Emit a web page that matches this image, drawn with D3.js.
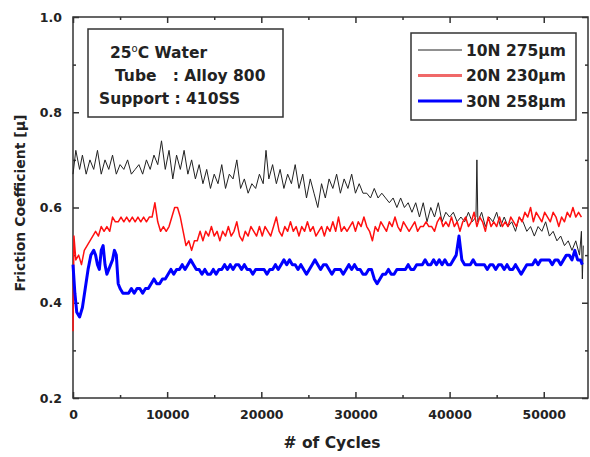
<!DOCTYPE html>
<html><head><meta charset="utf-8">
<script src="https://cdn.jsdelivr.net/npm/d3@7"></script>
<style>body{margin:0;background:#fff}svg{display:block}text{font-family:"DejaVu Sans",Verdana,sans-serif;font-weight:bold}</style>
</head><body><svg id="c" width="590" height="457"></svg>
<script>
// ---- data ----
const seriesNames = ["10N 275\u03bcm", "20N 230\u03bcm", "30N 258\u03bcm"];
const seriesColors = ["#222", "#ff1010", "#0000ff"];
const seriesWidths = [1, 1.5, 3];
const xTicks = [0, 10000, 20000, 30000, 40000, 50000];
const yTicks = [0.2, 0.4, 0.6, 0.8, 1.0];
const info = ["25\u00b0C Water", "Tube   : Alloy 800", "Support : 410SS"];

const s10N = [[0,0.67],[300,0.72],[700,0.68],[1000,0.71],[1400,0.67],[1800,0.70],[2200,0.68],[2600,0.72],[3000,0.67],[3400,0.70],[3800,0.68],[4200,0.71],[4600,0.67],[5000,0.69],[5400,0.68],[5800,0.70],[6200,0.67],[6600,0.68],[7000,0.69],[7400,0.67],[7800,0.70],[8200,0.68],[8600,0.71],[9000,0.69],[9400,0.74],[9800,0.68],[10200,0.72],[10600,0.66],[11000,0.71],[11400,0.68],[11800,0.72],[12200,0.67],[12600,0.70],[13000,0.66],[13400,0.69],[13800,0.65],[14200,0.68],[14600,0.64],[15000,0.67],[15400,0.65],[15800,0.69],[16200,0.64],[16600,0.67],[17000,0.66],[17400,0.70],[17800,0.64],[18200,0.66],[18600,0.63],[19000,0.65],[19400,0.64],[19800,0.67],[20200,0.65],[20500,0.72],[20800,0.66],[21200,0.69],[21600,0.65],[22000,0.68],[22400,0.64],[22800,0.67],[23200,0.65],[23600,0.69],[24000,0.64],[24400,0.67],[24800,0.62],[25200,0.66],[25600,0.63],[26000,0.60],[26400,0.65],[26800,0.62],[27200,0.66],[27600,0.64],[28000,0.67],[28400,0.63],[28800,0.66],[29200,0.64],[29600,0.67],[30000,0.63],[30400,0.65],[30800,0.63],[31200,0.63],[31600,0.62],[32000,0.64],[32400,0.62],[32800,0.63],[33200,0.62],[33600,0.61],[34000,0.62],[34400,0.60],[34800,0.62],[35200,0.60],[35600,0.61],[36000,0.59],[36400,0.61],[36800,0.58],[37200,0.61],[37600,0.57],[38000,0.60],[38400,0.58],[38800,0.61],[39200,0.57],[39600,0.59],[40000,0.58],[40400,0.59],[40800,0.57],[41200,0.58],[41600,0.57],[42000,0.59],[42400,0.57],[42800,0.58],[42900,0.70],[43000,0.57],[43400,0.59],[43800,0.56],[44200,0.58],[44600,0.57],[45000,0.59],[45400,0.56],[45800,0.58],[46200,0.56],[46600,0.57],[47000,0.55],[47400,0.58],[47800,0.57],[48200,0.55],[48600,0.56],[49000,0.54],[49400,0.56],[49800,0.55],[50200,0.57],[50600,0.54],[51000,0.55],[51400,0.53],[51800,0.54],[52200,0.52],[52600,0.53],[53000,0.51],[53400,0.53],[53800,0.50],[54000,0.55],[54100,0.45],[54200,0.52]];

const s20N = [[0,0.34],[100,0.54],[300,0.49],[600,0.50],[900,0.48],[1200,0.51],[1500,0.52],[1800,0.53],[2100,0.54],[2400,0.55],[2700,0.54],[3000,0.56],[3300,0.55],[3600,0.56],[3900,0.55],[4200,0.58],[4500,0.57],[4800,0.57],[5100,0.58],[5400,0.57],[5700,0.58],[6000,0.57],[6300,0.58],[6600,0.57],[6900,0.58],[7200,0.57],[7500,0.58],[7800,0.57],[8100,0.58],[8400,0.58],[8700,0.61],[9000,0.57],[9300,0.55],[9600,0.56],[9900,0.55],[10200,0.56],[10500,0.58],[10800,0.60],[11100,0.60],[11400,0.58],[11700,0.55],[12000,0.52],[12300,0.53],[12600,0.51],[12900,0.53],[13200,0.53],[13500,0.55],[13800,0.53],[14100,0.55],[14400,0.54],[14700,0.56],[15000,0.54],[15300,0.55],[15600,0.53],[15900,0.55],[16200,0.54],[16500,0.56],[16800,0.54],[17100,0.55],[17400,0.57],[17700,0.54],[18000,0.53],[18300,0.55],[18600,0.54],[18900,0.56],[19200,0.55],[19500,0.54],[19800,0.56],[20100,0.54],[20400,0.56],[20700,0.55],[21000,0.54],[21300,0.56],[21600,0.58],[21900,0.55],[22200,0.54],[22500,0.56],[22800,0.55],[23100,0.57],[23400,0.55],[23700,0.56],[24000,0.54],[24300,0.56],[24600,0.55],[24900,0.57],[25200,0.55],[25500,0.56],[25800,0.54],[26100,0.55],[26400,0.56],[26700,0.54],[27000,0.56],[27300,0.55],[27600,0.57],[27900,0.55],[28200,0.58],[28500,0.55],[28800,0.56],[29100,0.55],[29400,0.56],[29700,0.57],[30000,0.55],[30300,0.57],[30600,0.56],[30900,0.58],[31200,0.56],[31500,0.55],[31800,0.53],[32100,0.56],[32400,0.55],[32700,0.57],[33000,0.56],[33300,0.55],[33600,0.57],[33900,0.56],[34200,0.58],[34500,0.56],[34800,0.55],[35100,0.57],[35400,0.56],[35700,0.55],[36000,0.56],[36300,0.57],[36600,0.55],[36900,0.56],[37200,0.56],[37500,0.57],[37800,0.56],[38100,0.56],[38400,0.55],[38700,0.57],[39000,0.58],[39300,0.56],[39600,0.57],[39900,0.56],[40200,0.58],[40500,0.56],[40800,0.57],[41100,0.55],[41400,0.57],[41700,0.58],[42000,0.56],[42300,0.57],[42600,0.59],[42900,0.56],[43200,0.58],[43500,0.57],[43800,0.55],[44100,0.58],[44400,0.56],[44700,0.57],[45000,0.56],[45300,0.58],[45600,0.56],[45900,0.57],[46200,0.56],[46500,0.58],[46800,0.57],[47100,0.56],[47400,0.58],[47700,0.57],[48000,0.59],[48300,0.58],[48600,0.60],[48900,0.57],[49200,0.59],[49500,0.58],[49800,0.57],[50100,0.59],[50400,0.58],[50700,0.57],[51000,0.59],[51300,0.58],[51600,0.56],[51900,0.58],[52200,0.57],[52500,0.59],[52800,0.58],[53100,0.60],[53400,0.58],[53700,0.59],[54000,0.58]];

const s30N = [[0,0.48],[200,0.42],[400,0.38],[700,0.37],[1000,0.39],[1300,0.43],[1600,0.47],[1900,0.50],[2200,0.51],[2400,0.50],[2600,0.48],[2800,0.47],[3000,0.51],[3200,0.52],[3400,0.48],[3600,0.46],[3800,0.47],[4000,0.48],[4200,0.49],[4400,0.51],[4600,0.50],[4800,0.44],[5000,0.43],[5300,0.42],[5600,0.42],[5900,0.42],[6200,0.43],[6500,0.42],[6800,0.43],[7100,0.43],[7400,0.42],[7700,0.43],[8000,0.43],[8300,0.44],[8600,0.45],[8900,0.44],[9200,0.44],[9500,0.45],[9800,0.45],[10100,0.46],[10400,0.47],[10700,0.46],[11000,0.47],[11300,0.47],[11600,0.48],[11900,0.47],[12200,0.48],[12500,0.49],[12800,0.48],[13100,0.47],[13400,0.47],[13700,0.46],[14000,0.47],[14300,0.46],[14600,0.46],[14900,0.47],[15200,0.46],[15500,0.47],[15800,0.47],[16100,0.48],[16400,0.47],[16700,0.48],[17000,0.47],[17300,0.48],[17600,0.48],[17900,0.47],[18200,0.48],[18500,0.47],[18800,0.47],[19100,0.46],[19400,0.47],[19700,0.47],[20000,0.47],[20300,0.47],[20600,0.46],[20900,0.47],[21200,0.47],[21500,0.48],[21800,0.47],[22100,0.48],[22400,0.49],[22700,0.48],[23000,0.49],[23300,0.48],[23600,0.48],[23900,0.47],[24200,0.48],[24500,0.47],[24800,0.46],[25100,0.47],[25400,0.48],[25700,0.49],[26000,0.48],[26300,0.47],[26600,0.48],[26900,0.48],[27200,0.47],[27500,0.46],[27800,0.47],[28100,0.47],[28400,0.47],[28700,0.46],[29000,0.47],[29300,0.48],[29600,0.47],[29900,0.48],[30200,0.47],[30500,0.47],[30800,0.46],[31100,0.46],[31400,0.47],[31700,0.47],[32000,0.45],[32300,0.44],[32600,0.45],[32900,0.46],[33200,0.46],[33500,0.47],[33800,0.46],[34100,0.46],[34400,0.47],[34700,0.47],[35000,0.47],[35300,0.47],[35600,0.48],[35900,0.47],[36200,0.47],[36500,0.48],[36800,0.48],[37100,0.48],[37400,0.49],[37700,0.48],[38000,0.48],[38300,0.49],[38600,0.48],[38900,0.49],[39200,0.48],[39500,0.49],[39800,0.48],[40100,0.48],[40400,0.49],[40700,0.50],[41000,0.54],[41300,0.49],[41600,0.48],[41900,0.48],[42200,0.48],[42500,0.49],[42800,0.48],[43100,0.48],[43400,0.48],[43700,0.48],[44000,0.47],[44300,0.48],[44600,0.48],[44900,0.47],[45200,0.48],[45500,0.48],[45800,0.47],[46100,0.48],[46400,0.47],[46700,0.47],[47000,0.48],[47300,0.47],[47600,0.46],[47900,0.47],[48200,0.48],[48500,0.48],[48800,0.48],[49100,0.49],[49400,0.48],[49700,0.49],[50000,0.49],[50300,0.49],[50600,0.49],[50900,0.48],[51200,0.49],[51500,0.49],[51800,0.48],[52100,0.49],[52400,0.50],[52700,0.50],[53000,0.49],[53300,0.51],[53600,0.49],[53900,0.49],[54100,0.48]];

const allSeries = [s10N, s20N, s30N];

// ---- chart ----
const svg = d3.select("#c");
const m = {l: 73, r: 588, t: 17, b: 398};
const x = d3.scaleLinear().domain([0, 54700]).range([m.l, m.r]);
const y = d3.scaleLinear().domain([0.2, 1.0]).range([m.b, m.t]);
const axisCol = "#333";

// frame
svg.append("rect").attr("x", m.l).attr("y", m.t).attr("width", m.r - m.l).attr("height", m.b - m.t)
  .attr("fill", "none").attr("stroke", axisCol).attr("stroke-width", 1.5);

const xMinor = [5000, 15000, 25000, 35000, 45000];
const yMinor = [0.3, 0.5, 0.7, 0.9];
function ticks(axisGen, tr) {
  const g = svg.append("g").attr("transform", tr).call(axisGen);
  g.select(".domain").remove();
  g.selectAll("line").attr("stroke", axisCol).attr("stroke-width", 1.5);
  return g;
}
// bottom
const gx = ticks(d3.axisBottom(x).tickValues(xTicks).tickSize(-6).tickPadding(12).tickFormat(d3.format("d")), `translate(0,${m.b})`);
gx.selectAll("text").attr("font-size", 12.5).attr("fill", "#222").attr("font-family", "DejaVu Sans").attr("font-weight", "bold");
ticks(d3.axisBottom(x).tickValues(xMinor).tickSize(-3).tickFormat(""), `translate(0,${m.b})`);
// top
ticks(d3.axisTop(x).tickValues(xTicks).tickSize(-6).tickFormat(""), `translate(0,${m.t})`);
ticks(d3.axisTop(x).tickValues(xMinor).tickSize(-3).tickFormat(""), `translate(0,${m.t})`);
// left
const gy = ticks(d3.axisLeft(y).tickValues(yTicks).tickSize(-6).tickPadding(11).tickFormat(d3.format(".1f")), `translate(${m.l},0)`);
gy.selectAll("text").attr("font-size", 12.5).attr("fill", "#222").attr("font-family", "DejaVu Sans").attr("font-weight", "bold");
ticks(d3.axisLeft(y).tickValues(yMinor).tickSize(-3).tickFormat(""), `translate(${m.l},0)`);
// right
ticks(d3.axisRight(y).tickValues(yTicks).tickSize(-6).tickFormat(""), `translate(${m.r},0)`);
ticks(d3.axisRight(y).tickValues(yMinor).tickSize(-3).tickFormat(""), `translate(${m.r},0)`);

// lines
const line = d3.line().x(d => x(d[0])).y(d => y(d[1]));
allSeries.forEach((s, i) => {
  svg.append("path").datum(s).attr("d", line).attr("fill", "none")
    .attr("stroke", seriesColors[i]).attr("stroke-width", seriesWidths[i]).attr("stroke-linejoin", "round");
});

// axis titles
svg.append("text").attr("x", 332).attr("y", 448).attr("text-anchor", "middle")
  .attr("font-size", 15.5).attr("fill", "#222").text("# of Cycles");
svg.append("text").attr("transform", "translate(25,203) rotate(-90)").attr("text-anchor", "middle")
  .attr("font-size", 14).attr("fill", "#222").text("Friction Coefficient [\u03bc]");

// info box
svg.append("rect").attr("x", 88).attr("y", 29).attr("width", 195).attr("height", 88)
  .attr("fill", "#fff").attr("stroke", axisCol).attr("stroke-width", 1.5);
const infoX = [110, 115, 99];
const infoY = [57.5, 81, 104];
info.forEach((t, i) => {
  const tx = svg.append("text").attr("x", infoX[i]).attr("y", infoY[i]).attr("font-size", 15.5).attr("fill", "#222")
    .attr("xml:space", "preserve").style("white-space", "pre");
  if (i === 0) {
    tx.append("tspan").text("25");
    tx.append("tspan").attr("dy", -6).attr("font-size", 10).attr("font-weight", "normal").text("o");
    tx.append("tspan").attr("dy", 6).text("C Water");
  } else tx.text(t);
});

// legend
svg.append("rect").attr("x", 411).attr("y", 33).attr("width", 165).attr("height", 87)
  .attr("fill", "#fff").attr("stroke", axisCol).attr("stroke-width", 1.5);
seriesNames.forEach((n, i) => {
  const yy = 50 + i * 25.5;
  svg.append("line").attr("x1", 418).attr("x2", 462).attr("y1", yy).attr("y2", yy)
    .attr("stroke", i === 1 ? "#f06868" : seriesColors[i]).attr("stroke-width", i === 0 ? 1 : 3);
  svg.append("text").attr("x", 466).attr("y", yy + 5.5).attr("font-size", 15.5).attr("fill", "#222").text(n);
});
</script></body></html>
